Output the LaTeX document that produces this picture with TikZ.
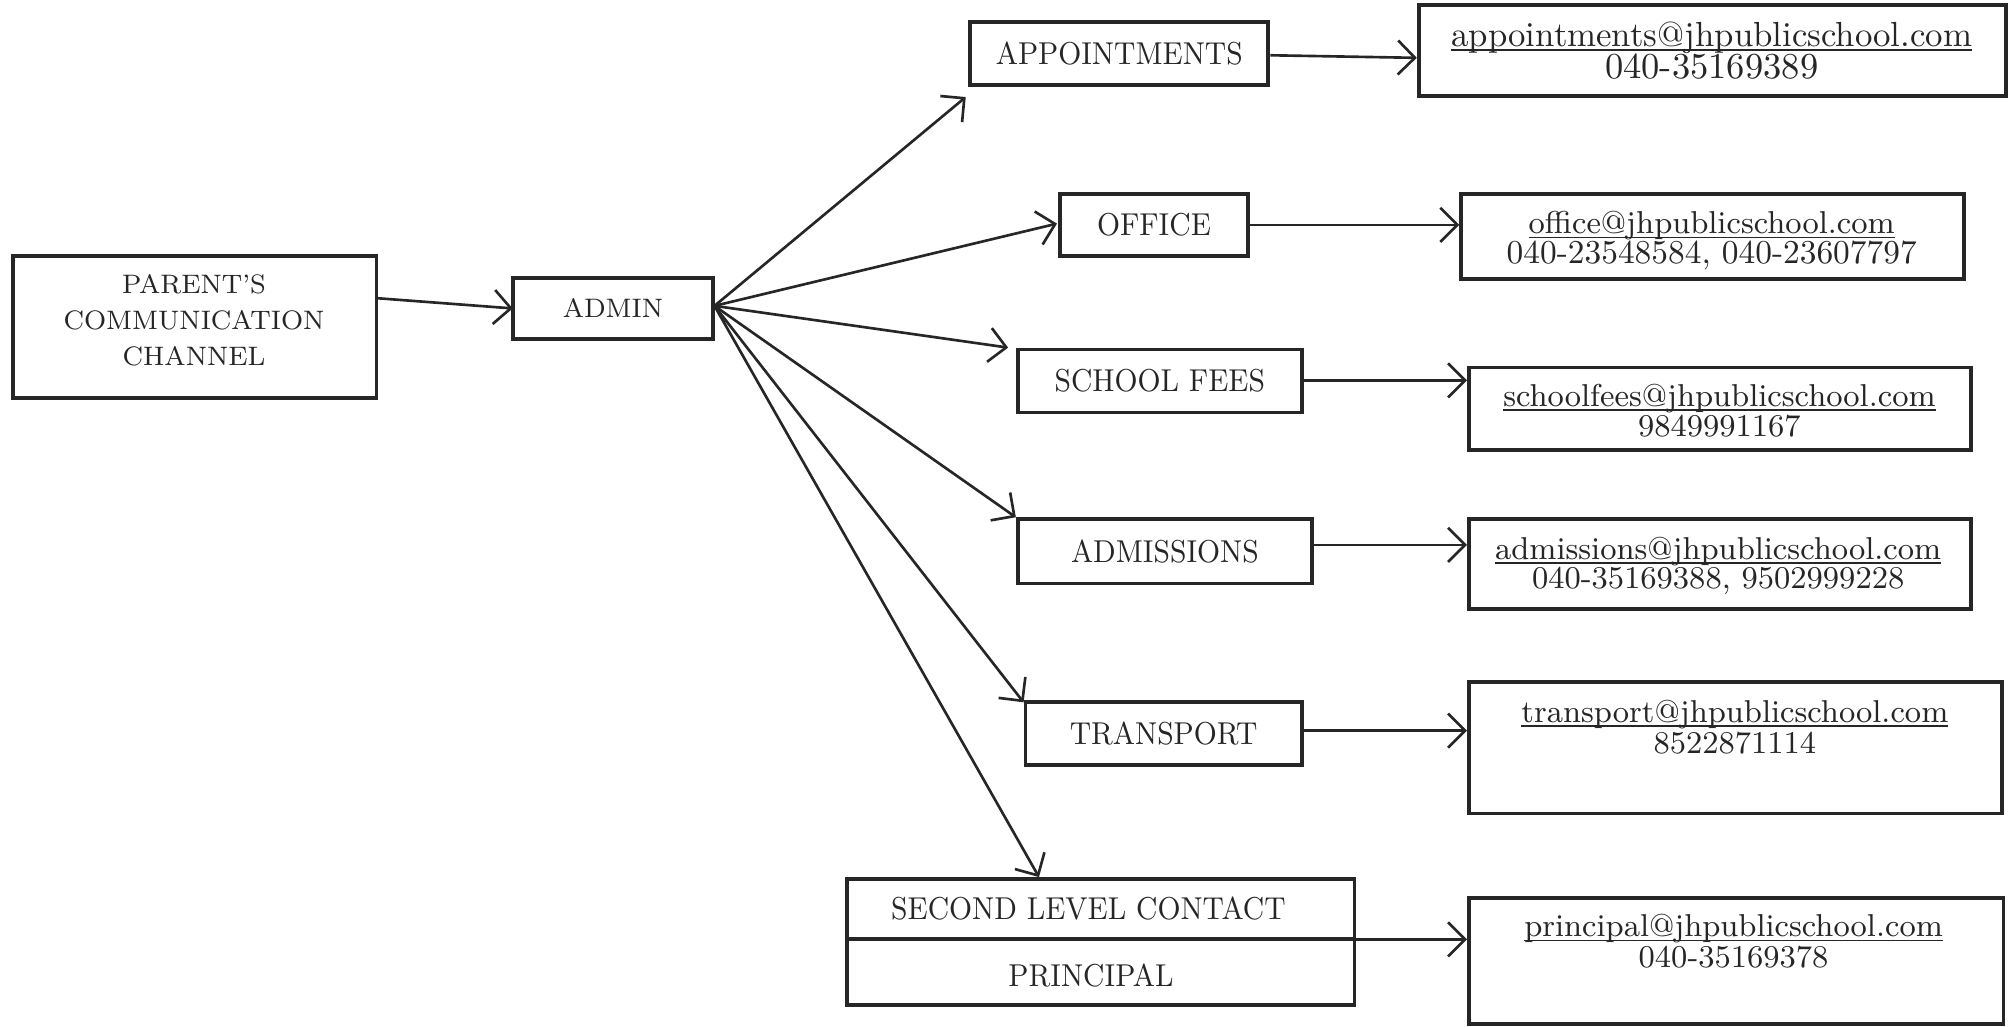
\documentclass[tikz,border=0pt]{standalone}
\usepackage{fontspec}
\usepackage{graphicx}
\usetikzlibrary{fit,arrows.meta,calc}
\newcommand\ulx[1]{\leavevmode\setbox0\hbox{#1}\rlap{\rule[-1.3pt]{\wd0}{0.45pt}}\box0}
\newcommand\cx[1]{\scalebox{0.91}[1]{#1}}
\tikzset{
  box/.style={draw=black!85, line width=1.1pt, inner sep=0pt, fit={#1}},
  lbl/.style={font=\fontsize{9}{10.2}\selectfont, align=center, inner sep=0pt, text=black!85},
  mail/.style={font=\fontsize{9}{9.2}\selectfont, anchor=base, inner sep=0pt, text=black!85},
  conn/.style={draw=black!85, line width=0.75pt, -{Straight Barb[length=1.7mm,width=3.4mm,line width=0.75pt]}}
}
\begin{document}
\begin{tikzpicture}[x=0.012851cm, y=-0.012851cm]
\useasboundingbox[fill=white] (0,0) rectangle (1568,799);
% left boxes
\node[box={(10,199) (293,310)}] (pcc) {};
\node[lbl, font=\fontsize{7.6}{10.2}\selectfont] (pcct) at (151,249) {PARENT'S\\COMMUNICATION\\CHANNEL};
\node[box={(399,216) (555,264)}] (admin) {};
\node[lbl, font=\fontsize{7.6}{10.2}\selectfont] (admint) at (477,240) {ADMIN};
% middle boxes
\node[box={(755,17) (987,66)}] (appt) {};
\node[lbl] (apptt) at (appt.center) {\cx{APPOINTMENTS}};
\node[box={(825,151) (971,199)}] (office) {};
\node[lbl] (officet) at (office.center) {\cx{OFFICE}};
\node[box={(792,272) (1013,321)}] (fees) {};
\node[lbl] (feest) at (fees.center) {\cx{SCHOOL FEES}};
\node[box={(792,404) (1021,454)}] (adm) {};
\node[lbl] (admt) at (adm.center) {\cx{ADMISSIONS}};
\node[box={(798,546) (1013,595)}] (trans) {};
\node[lbl] (transt) at (trans.center) {\cx{TRANSPORT}};
\node[box={(659,684) (1054,782)}] (sec) {};
\coordinate (divl) at (659,731);
\coordinate (divr) at (1054,731);
\draw[draw=black!85, line width=1.1pt] (divl) -- (divr);
\node[lbl] (sect) at (847,707) {\cx{SECOND LEVEL CONTACT}};
\node[lbl] (prin) at (849,759) {\cx{PRINCIPAL}};
% right boxes
\node[box={(1104,4) (1561,75)}] (eappt) {};
\node[mail, font=\fontsize{9.9}{10}\selectfont] (eappt1) at (1332,36) {\ulx{appointments@jhpublicschool.com}};
\node[mail, font=\fontsize{10.4}{10}\selectfont] (eappt2) at (1332,61) {040-35169389};
\node[box={(1137,151) (1528,217)}] (eoffice) {};
\node[mail] (eoffice1) at (1332,182) {\ulx{office@jhpublicschool.com}};
\node[mail, font=\fontsize{9.5}{10}\selectfont] (eoffice2) at (1332,205) {040-23548584, 040-23607797};
\node[box={(1143,286) (1534,350)}] (efees) {};
\node[mail] (efees1) at (1338,316) {\ulx{schoolfees@jhpublicschool.com}};
\node[mail] (efees2) at (1338,340) {9849991167};
\node[box={(1143,404) (1534,474)}] (eadm) {};
\node[mail] (eadm1) at (1337,435) {\ulx{admissions@jhpublicschool.com}};
\node[mail] (eadm2) at (1337,458) {040-35169388, 9502999228};
\node[box={(1143,531) (1558,633)}] (etrans) {};
\node[mail] (etrans1) at (1350,562) {\ulx{transport@jhpublicschool.com}};
\node[mail] (etrans2) at (1350,586) {8522871114};
\node[box={(1143,699) (1559,797)}] (eprin) {};
\node[mail] (eprin1) at (1349,729) {\ulx{principal@jhpublicschool.com}};
\node[mail] (eprin2) at (1349,753) {040-35169378};
% connectors
\coordinate (pccout) at (293,232);
\coordinate (adminin) at (399,240);
\coordinate (adminout) at (556,238);
\draw[conn] (pccout) -- (adminin);
\draw[conn] (adminout) -- ($(appt.south west)+(-2,8)$);
\draw[conn] (adminout) -- ($(office.west)+(-1,-1)$);
\draw[conn] (adminout) -- ($(fees.north west)+(-6,0)$);
\draw[conn] (adminout) -- (adm.north west);
\draw[conn] (adminout) -- ($(trans.north west)+(0,2)$);
\draw[conn] (adminout) -- ($(sec.north west)+(151,0)$);
\coordinate (a1) at ($(appt.east)+(0,1.5)$);
\coordinate (b1) at ($(eappt.west)+(0,5.5)$);
\draw[conn] (a1) -- (b1);
\coordinate (a2) at ($(office.east)+(0,0)$);
\draw[conn] (a2) -- (a2 -| eoffice.west);
\coordinate (a3) at ($(fees.east)+(0,-0.5)$);
\draw[conn] (a3) -- (a3 -| efees.west);
\coordinate (a4) at ($(adm.east)+(0,-5)$);
\draw[conn] (a4) -- (a4 -| eadm.west);
\coordinate (a5) at ($(trans.east)+(0,-2)$);
\draw[conn] (a5) -- (a5 -| etrans.west);
\draw[conn] (divr) -- (divr -| eprin.west);
\end{tikzpicture}
\end{document}
